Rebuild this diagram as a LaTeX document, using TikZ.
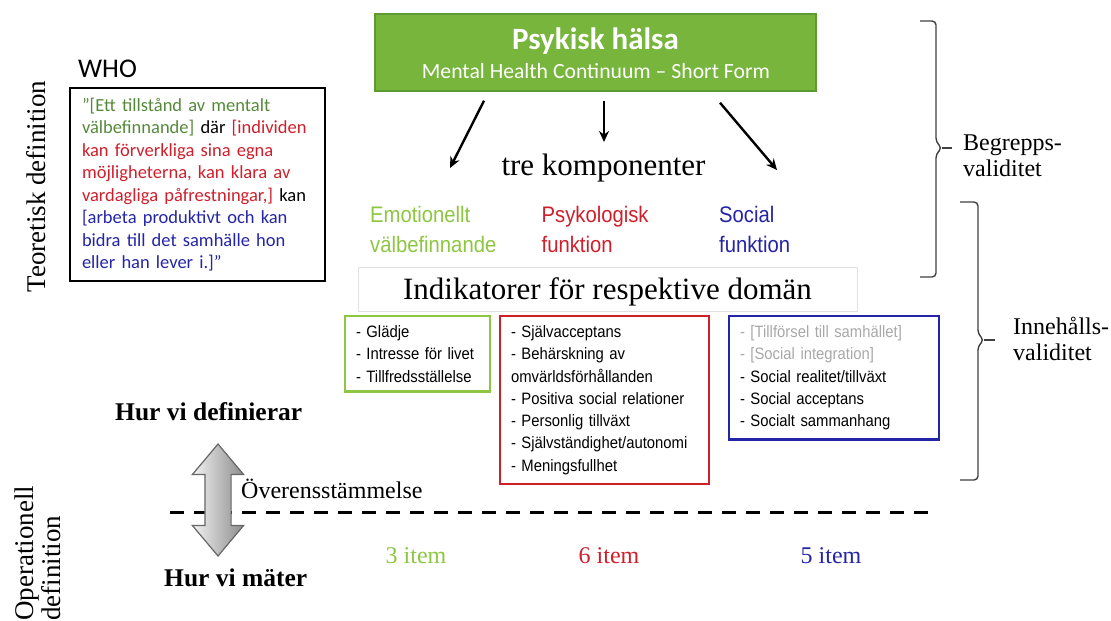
\documentclass[tikz,border=0pt]{standalone}
\usepackage{fontspec}
\setmainfont{Liberation Serif}
\newfontfamily\calibri{Carlito}
\newfontfamily\arialn[FakeStretch=0.9]{Liberation Sans}
\usetikzlibrary{arrows.meta,shapes.arrows}
\definecolor{hgreen}{HTML}{77B53C}
\definecolor{hgreenline}{HTML}{5E9A30}
\definecolor{lgreen}{HTML}{8DC641}
\definecolor{dgreen}{HTML}{55893A}
\definecolor{mred}{HTML}{CE1F2B}
\definecolor{mblue}{HTML}{2424A6}
\definecolor{lgray}{HTML}{A8A8A8}
\tikzset{
  pil/.style={line width=2.4pt,-{Stealth[length=11pt,width=10pt]}},
  komp/.style={anchor=base west,align=left,inner sep=0pt,font=\arialn\fontsize{22.5}{30}\selectfont},
  indbox/.style={draw,line width=2.6pt,anchor=north west,outer sep=0pt,align=left,inner xsep=11pt,inner ysep=9.5pt,font=\arialn\fontsize{16.5}{22.3}\selectfont},
  serif/.style={anchor=base west,inner sep=0pt,font=\fontsize{24}{26}\selectfont},
  klammer/.style={line width=1.4pt,draw=black!75,rounded corners=4pt},
}
\begin{document}
\begin{tikzpicture}[x=1pt,y=-1pt]
  \useasboundingbox (0,0) rectangle (1111,621);
  \node[fill=hgreen,draw=hgreenline,line width=1.5pt,minimum width=441pt,minimum height=77pt,inner sep=0pt] (halsa) at (595.5,52.5) {};
  \node[anchor=base,inner sep=0pt,text=white,font=\calibri\bfseries\fontsize{31}{34}\selectfont] (titel) at (595.5,49) {Psykisk hälsa};
  \node[anchor=base,inner sep=0pt,text=white,font=\calibri\fontsize{21.7}{24}\selectfont] (undertitel) at (596,78) {Mental Health Continuum – Short Form};
  \coordinate (emoPil) at (450,168);
  \coordinate (psykPil) at (604,142);
  \coordinate (socPil) at (777,170);
  \draw[pil] ([xshift=-111.5pt,yshift=-9pt]halsa.south) -- (emoPil);
  \draw[pil] ([xshift=8.5pt,yshift=-9pt]halsa.south) -- (psykPil);
  \draw[pil] ([xshift=124.5pt,yshift=-11pt]halsa.south) -- (socPil);
  \node[anchor=base,inner sep=0pt,font=\fontsize{31}{36}\selectfont] (tre) at (603.5,175) {tre komponenter};
  \node[komp,text=lgreen] (emo) at (370,252) {Emotionellt\\välbefinnande};
  \node[komp,text=mred] (psyk) at (541.5,252) {Psykologisk\\funktion};
  \node[komp,text=mblue] (soc) at (719,252) {Social\\funktion};
  \node[draw=black!12,line width=1pt,minimum width=499pt,minimum height=44pt,text height=24pt,text depth=4pt,inner sep=0pt,font=\fontsize{31}{36}\selectfont] (indikator) at (607.5,289) {Indikatorer för respektive domän};
  \node[indbox,draw=lgreen,text width=123pt] (indEmo) at (345,316) {- Glädje\\- Intresse för livet\\- Tillfredsställelse};
  \node[indbox,draw=mred,text width=187pt] (indPsyk) at (500,316) {- Självacceptans\\- Behärskning av\\omvärldsförhållanden\\- Positiva social relationer\\- Personlig tillväxt\\- Självständighet/autonomi\\- Meningsfullhet};
  \node[indbox,draw=mblue,text width=188pt] (indSoc) at (729,316) {{\color{lgray}- [Tillförsel till samhället]}\\{\color{lgray}- [Social integration]}\\- Social realitet/tillväxt\\- Social acceptans\\- Socialt sammanhang};
  \node[anchor=base west,inner sep=0pt,font=\calibri\fontsize{27}{30}\selectfont] (who) at (78,77) {WHO};
  \node[draw,line width=1.3pt,anchor=north west,outer sep=0pt,text width=231pt,inner xsep=12pt,inner ysep=10pt,align=left,font=\calibri\fontsize{18.5}{22.45}\selectfont] (whobox) at (70,88)
    {{\color{dgreen}”[Ett tillstånd av mentalt}\\
     {\color{dgreen}välbefinnande]} där {\color{mred}[individen}\\
     {\color{mred}kan förverkliga sina egna}\\
     {\color{mred}möjligheterna, kan klara av}\\
     {\color{mred}vardagliga påfrestningar,]} kan\\
     {\color{mblue}[arbeta produktivt och kan}\\
     {\color{mblue}bidra till det samhälle hon}\\
     {\color{mblue}eller han lever i.]”}};
  \node[rotate=90,anchor=base,inner sep=0pt,font=\fontsize{27}{30}\selectfont] (teoretisk) at (45,186.5) {Teoretisk definition};
  \node[rotate=90,anchor=base west,inner sep=0pt,font=\fontsize{27}{30}\selectfont] (operationell) at (33,621) {Operationell};
  \node[rotate=90,anchor=base west,inner sep=0pt,font=\fontsize{27}{30}\selectfont] (opdefinition) at (60,621) {definition};
  \node[serif,font=\bfseries\fontsize{25.5}{30}\selectfont] (definierar) at (115,420) {Hur vi definierar};
  \node[serif,font=\bfseries\fontsize{25.5}{30}\selectfont] (mater) at (164,586) {Hur vi mäter};
  \node[serif] (overens) at (241,498) {Överensstämmelse};
  \coordinate (gransV) at (170,512);
  \coordinate (gransH) at (930,512);
  \draw[line width=3pt,dash pattern=on 14pt off 10pt] (gransV) -- (gransH);
  \node[double arrow,shape border rotate=90,draw=black!60,line width=1.2pt,left color=black!5,right color=black!45,minimum height=112pt,inner xsep=12.5pt,inner ysep=0pt,double arrow head extend=12.5pt,double arrow tip angle=80] (dubbel) at (218,500) {};
  \node[anchor=base,inner sep=0pt,text=lgreen,font=\fontsize{24}{28}\selectfont] (item3) at (416,563) {3 item};
  \node[anchor=base,inner sep=0pt,text=mred,font=\fontsize{24}{28}\selectfont] (item6) at (609,563) {6 item};
  \node[anchor=base,inner sep=0pt,text=mblue,font=\fontsize{24}{28}\selectfont] (item5) at (831,563) {5 item};
  \draw[klammer] (920,21) -- (936,21) -- (936,142) -- (942,148) -- (936,154) -- (936,277) -- (920,277);
  \draw[klammer] (942,148) -- (952,148);
  \draw[klammer] (960,202) -- (978,202) -- (978,334) -- (984,340) -- (978,346) -- (978,480) -- (960,480);
  \draw[klammer] (984,340) -- (995,340);
  \node[serif,align=left,font=\fontsize{24}{26}\selectfont] (begrepp) at (963,176) {Begrepps-\\validitet};
  \node[serif,align=left,font=\fontsize{24}{26}\selectfont] (innehall) at (1013,360) {Innehålls-\\validitet};
\end{tikzpicture}
\end{document}
